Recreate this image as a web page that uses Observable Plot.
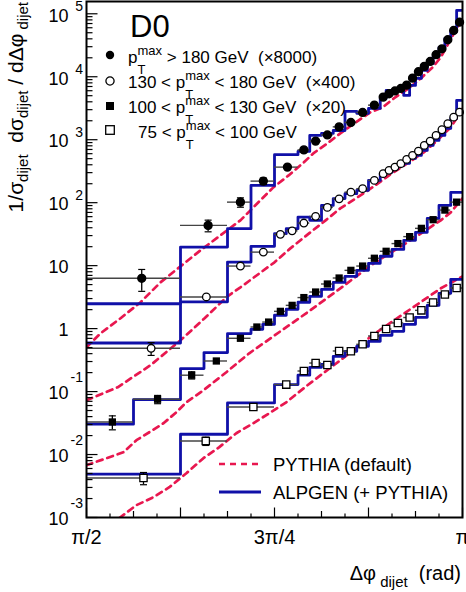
<!DOCTYPE html>
<html><head><meta charset="utf-8">
<script src="https://cdn.jsdelivr.net/npm/d3@7"></script>
<script src="https://cdn.jsdelivr.net/npm/@observablehq/plot@0.6"></script>
<style>body{margin:0;background:#fff;} svg text{white-space:pre;}</style>
</head><body><div id="chart"></div>
<script>
const PI = Math.PI;
// Δφ positions are given in units of π/128 above π/2
// Series 1: pT > 180 GeV (x8000)
const edges1 = [0,16,24,28,32,36,38,40,42,44,46,48,50,51,52,53,54,55,56,57,58,59,60,61,62,63,64];
const pos1 = [9.4,20.7,26.2,30.1,34.2,37,39,41,43,45,47,49,50.5,51.5,52.5,53.5,54.5,55.5,56.5,57.5,58.5,59.5,60.5,61.5,62.5,63.5];
const data1 = [6.3,43.6,102,220,367,689,950,1190,1600,1880,2710,3540,4750,5370,5950,6520,7360,9500,12000,14600,17500,22400,27800,38700,54300,73600];
const alpgen1 = [2.48,19.7,38.7,188,578,652,1170,1260,1400,2810,2620,3140,4520,6060,6060,6060,5050,7280,9400,12600,16300,21000,29200,40600,52400,113000];
const err1 = [0.38,0.21,0.17,0.12,0.07,0.06,0.05,0.05,0.05,0.05,0.05,0.05,0.05,0.05,0.05,0.05,0.05,0.05,0.05,0.05,0.05,0.05,0.05,0.05,0.05,0.05];
const pythiaK1 = [0,2.4,5.8,9.2,12.6,16,19.4,22.8,26.2,29.6,31.8,34.4,36.8,38.6,41,43.2,45.8,48.3,50.4,52.3,54.8,56.9,58.9,60.3,61.6,63.1,64];
const pythia1 = [0.505,0.842,1.46,2.62,5.43,9.75,17.5,30.3,52.4,109,175,271,421,606,874,1260,1880,2710,3260,4520,6520,9400,14100,20300,33800,60600,84200];
// Series 2: 130-180 GeV (x400)
const edges2 = [0,16,24,28,32,34,36,38,40,42,44,46,48,50,51,52,53,54,55,56,57,58,59,60,61,62,63,64];
const pos2 = [11.0,20.4,26.2,30.1,33,35,37,39,41,43,45,47,49,50.5,51.5,52.5,53.5,54.5,55.5,56.5,57.5,58.5,59.5,60.5,61.5,62.5,63.5];
const data2 = [0.487,3.18,9.85,16.4,31.4,35.7,47.5,60.6,84.2,115,147,167,226,289,326,367,416,487,563,659,812,950,1170,1440,1800,2280,2740];
const alpgen2 = [0.591,2.66,11.4,20.3,32.2,38.7,59.1,52.4,90.6,116,139,157,226,289,303,350,391,421,505,563,676,812,975,1170,1510,2180,4210];
const err2 = [0.23,0.09,0.06,0.05,0.04,0.04,0.04,0.04,0.04,0.04,0.04,0.04,0.04,0.04,0.04,0.04,0.04,0.04,0.04,0.04,0.04,0.04,0.04,0.04,0.04,0.04,0.04];
const pythiaK2 = [0,5.3,10.9,16,20.1,24,26.2,32,34.7,38.1,40.7,43.2,46.1,48.9,51.7,54.6,57.4,59.7,62,63.3,64];
const pythia2 = [0.0728,0.117,0.262,0.652,1.46,3.26,4.52,11.3,18.8,33.8,52.4,81.2,121,181,281,421,629,975,1570,2430,3140];
// Series 3: 100-130 GeV (x20)
const edges3 = [0,8,16,20,24,28,30,32,34,36,38,40,42,44,46,48,50,52,54,56,58,60,62,64];
const pos3 = [4.4,12.1,17.9,22.1,26.2,29,31,33,35,37,39,41,43,45,47,49,51,53,55,57,59,61,63];
const data3 = [0.0329,0.0755,0.182,0.306,0.702,1.06,1.27,1.88,2.34,3.11,3.81,5.11,6.36,8.42,9.85,13.1,16.9,22.4,28.9,39.1,53.7,76.3,102];
const alpgen3 = [0.0303,0.0746,0.232,0.416,0.833,0.975,1.17,1.63,2.03,2.62,3.26,4.21,5.43,6.76,8.42,10.9,14.1,18.1,25.2,33.8,56.3,90.6,146];
const err3 = [0.25,0.15,0.13,0.08,0.06,0.04,0.04,0.04,0.04,0.04,0.04,0.04,0.04,0.04,0.04,0.04,0.04,0.04,0.04,0.04,0.04,0.04,0.04];
const pythiaK3 = [0,3.4,6.3,8.5,10.7,13.1,15.3,17,19.9,23.8,27.7,31.8,35.2,37.6,43.2,48.9,54.6,60.3,62,64];
const pythia3 = [0.00676,0.00874,0.0109,0.0169,0.0226,0.0314,0.0469,0.0676,0.105,0.203,0.405,0.755,1.26,1.81,4.36,10.9,23.4,52.4,70.2,117];
// Series 4: 75-100 GeV
const edges4 = [0,16,24,32,36,38,40,42,44,46,48,50,52,54,56,58,60,62,64];
const pos4 = [9.7,20.3,28.4,34.0,37,39,41,43,45,47,49,51,53,55,57,59,61,63];
const data4 = [0.00425,0.0164,0.0569,0.129,0.212,0.284,0.264,0.441,0.436,0.563,0.763,0.985,1.23,1.50,1.95,2.59,3.47,4.41];
const alpgen4 = [0.00487,0.0210,0.0659,0.129,0.182,0.243,0.271,0.363,0.436,0.524,0.629,0.783,0.906,1.17,1.51,2.34,3.63,6.06];
const err4 = [0.22,0.15,0.09,0.07,0.05,0.04,0.04,0.04,0.04,0.04,0.04,0.04,0.04,0.04,0.04,0.04,0.04,0.04];
const pythiaK4 = [5.6,8.5,11.4,14.1,17,19.9,22.6,25.5,28.4,31.1,34,37.6,43.2,48.9,54.6,60.3,64];
const pythia4 = [0.00098,0.00157,0.0021,0.00303,0.00505,0.00874,0.0131,0.0218,0.0314,0.0452,0.0676,0.126,0.314,0.812,1.88,4.36,6.76];

// axis labels
const xTickVals = [PI/2, 3*PI/4, PI];
const xTickLabels = ["π/2","3π/4","π"];
const yDecades = [1e-3,1e-2,1e-1,1,10,1e2,1e3,1e4,1e5];
const yBase = ["10","10","10","1","10","10","10","10","10"];
const yExp = ["-3","-2","-1","","","2","3","4","5"];
const legendTop = [
  {pre:"", post:" > 180 GeV  (×8000)"},
  {pre:"130 < ", post:" < 180 GeV  (×400)"},
  {pre:"100 < ", post:" < 130 GeV  (×20)"},
  {pre:"75 < ", post:" < 100 GeV"}
];
const legendBottom = ["PYTHIA (default)", "ALPGEN (+ PYTHIA)"];

const RED = "#e8174f", BLUE = "#1010a8";
const toRad = k => PI/2 + k*PI/128;
function build(id, edges, pos, vals, alp, err, pk, pv){
  const pts = vals.map((v,i)=>({id, x: toRad(pos[i]), v, lo: toRad(edges[i]), hi: toRad(edges[i+1]), e: err[i]}));
  const steps = alp.flatMap((v,i)=>[{id, x: toRad(edges[i]), v},{id, x: toRad(edges[i+1]), v}]);
  const curve = pk.map((k,i)=>({id, x: toRad(k), v: pv[i]}));
  return {pts, steps, curve};
}
const S = [
  build(1, edges1, pos1, data1, alpgen1, err1, pythiaK1, pythia1),
  build(2, edges2, pos2, data2, alpgen2, err2, pythiaK2, pythia2),
  build(3, edges3, pos3, data3, alpgen3, err3, pythiaK3, pythia3),
  build(4, edges4, pos4, data4, alpgen4, err4, pythiaK4, pythia4)
];
const allPts = S.flatMap(s=>s.pts), allSteps = S.flatMap(s=>s.steps), allCurves = S.flatMap(s=>s.curve);
const caps = allPts.filter(d=>d.e>=0.1).flatMap(d=>[{x:d.x, v:d.v*(1-d.e)},{x:d.x, v:d.v*(1+d.e)}]);

const hbar = L => ({draw(ctx){ctx.moveTo(-L,0); ctx.lineTo(L,0);}});
const tickRight = L => ({draw(ctx){ctx.moveTo(0,0); ctx.lineTo(L,0);}});
const tickUp = L => ({draw(ctx){ctx.moveTo(0,0); ctx.lineTo(0,-L);}});

const yMinor = [];
for (let e=-3;e<=5;e++) for (let m=2;m<=9;m++){ const v=m*10**e; if (v<1.56e5) yMinor.push(v); }
const xT = d3.range(0,65,4);
const xBig = xT.filter(k=>k%16===0).map(toRad), xMid = xT.filter(k=>k%16!==0 && k%8===0).map(toRad), xSmall = xT.filter(k=>k%8!==0).map(toRad);

const plot = Plot.plot({
  width: 466, height: 592,
  marginLeft: 86, marginRight: 4, marginTop: 1, marginBottom: 75,
  x: {domain: [PI/2, PI], axis: null},
  y: {type: "log", domain: [1e-3, 1.567e5], axis: null},
  style: {fontFamily: "'Liberation Sans', Arial, sans-serif", background: "white", color: "black"},
  marks: [
    Plot.line(allCurves, {x:"x", y:"v", z:"id", stroke: RED, strokeWidth: 2.7, strokeDasharray: "6,5", clip: true}),
    Plot.line(allSteps, {x:"x", y:"v", z:"id", stroke: BLUE, strokeWidth: 2.8, clip: true}),
    Plot.ruleY(allPts, {y:"v", x1:"lo", x2:"hi", stroke:"#444", strokeWidth: 1.4}),
    Plot.ruleX(allPts, {x:"x", y1: d=>d.v*(1-d.e), y2: d=>d.v*(1+d.e), stroke:"black", strokeWidth: 1.3}),
    Plot.dot(caps, {x:"x", y:"v", symbol: hbar(3.5), stroke:"black", fill:"none", strokeWidth: 1.2}),
    Plot.dot(S[0].pts, {x:"x", y:"v", r:3.9, fill:"black", stroke:"black"}),
    Plot.dot(S[1].pts, {x:"x", y:"v", r:3.8, fill:"white", stroke:"black", strokeWidth:1.3}),
    Plot.dot(S[2].pts, {x:"x", y:"v", r:4.1, symbol:"square", fill:"black", stroke:"none"}),
    Plot.dot(S[3].pts, {x:"x", y:"v", r:4.1, symbol:"square", fill:"white", stroke:"black", strokeWidth:1.3}),
    Plot.frame({stroke:"black", strokeWidth: 2}),
    Plot.dot(yDecades, {y: d=>d, frameAnchor:"left", symbol: tickRight(11), stroke:"black", fill:"none", strokeWidth:1.2}),
    Plot.dot(yMinor, {y: d=>d, frameAnchor:"left", symbol: tickRight(6), stroke:"black", fill:"none", strokeWidth:1.2}),
    Plot.dot(xBig, {x: d=>d, frameAnchor:"bottom", symbol: tickUp(10), stroke:"black", fill:"none", strokeWidth:1.2}),
    Plot.dot(xMid, {x: d=>d, frameAnchor:"bottom", symbol: tickUp(6.5), stroke:"black", fill:"none", strokeWidth:1.2}),
    Plot.dot(xSmall, {x: d=>d, frameAnchor:"bottom", symbol: tickUp(4), stroke:"black", fill:"none", strokeWidth:1.2}),
    Plot.text(yDecades, {y: d=>d, text: (d,i)=>yBase[i], frameAnchor:"left", textAnchor:"end", dx:-18, dy:2, fontSize:18}),
    Plot.text(yDecades.filter((d,i)=>yExp[i].startsWith("-")), {y: d=>d, text: d=>yExp[yDecades.indexOf(d)], frameAnchor:"left", textAnchor:"end", dx:-3.5, dy:-14, fontSize:14}),
    Plot.text(yDecades.filter((d,i)=>yExp[i] && !yExp[i].startsWith("-")), {y: d=>d, text: d=>yExp[yDecades.indexOf(d)], frameAnchor:"left", textAnchor:"end", dx:-3.5, dy:-7, fontSize:14}),
    Plot.text(xTickVals, {x: d=>d, text: (d,i)=>xTickLabels[i], frameAnchor:"bottom", dy: 26, fontSize: 20})
  ]
});

const svg = d3.select(plot);
const F = "'Liberation Sans', Arial, sans-serif";
const T = (x,y,size) => svg.append("text").attr("x",x).attr("y",y).attr("font-size",size).attr("font-family",F).attr("text-anchor","start").attr("fill","black");
T(130,37,31).text("D0");

// top legend
const mk = [
  g => g.append("circle").attr("r",4.2).attr("fill","black"),
  g => g.append("circle").attr("r",4.1).attr("fill","white").attr("stroke","black").attr("stroke-width",1.3),
  g => g.append("rect").attr("x",-4).attr("y",-4).attr("width",8).attr("height",8).attr("fill","black"),
  g => g.append("rect").attr("x",-4.3).attr("y",-4.3).attr("width",8.6).attr("height",8.6).attr("fill","white").attr("stroke","black").attr("stroke-width",1.3)
];
const markerY = [55, 81, 106, 130];
const baseY = [63, 88, 113, 138];
legendTop.forEach((L,i)=>{
  const g = svg.append("g").attr("transform",`translate(110,${markerY[i]})`);
  mk[i](g);
  const t = T(i===3 ? 138 : 128, baseY[i], 17);
  t.append("tspan").text(L.pre + "p");
  t.append("tspan").attr("font-size",13).attr("dy",11).text("T");
  t.append("tspan").attr("font-size",13).attr("dx",-7.9).attr("dy",-19).text("max");
  t.append("tspan").attr("dy",8).text(L.post);
});

// bottom legend
svg.append("line").attr("x1",219).attr("x2",261).attr("y1",464).attr("y2",464).attr("stroke",RED).attr("stroke-width",2.7).attr("stroke-dasharray","6,5");
svg.append("line").attr("x1",219).attr("x2",261).attr("y1",492).attr("y2",492).attr("stroke",BLUE).attr("stroke-width",2.8);
T(273,471,18.5).text(legendBottom[0]);
T(273,499,18.5).text(legendBottom[1]);

// y title
const yt = svg.append("text").attr("transform","translate(23,2) rotate(-90)").attr("text-anchor","end").attr("font-size",21).attr("font-family",F).attr("fill","black");
yt.append("tspan").text("1/σ");
yt.append("tspan").attr("font-size",15).attr("dy",5).text("dijet");
yt.append("tspan").attr("dy",-5).text("  dσ");
yt.append("tspan").attr("font-size",15).attr("dy",5).text("dijet");
yt.append("tspan").attr("dy",-5).text(" / dΔφ");
yt.append("tspan").attr("font-size",15).attr("dy",5).text(" dijet");

// x title
const xt = svg.append("text").attr("x",461).attr("y",580).attr("text-anchor","end").attr("font-size",20).attr("font-family",F).attr("fill","black");
xt.append("tspan").text("Δφ");
xt.append("tspan").attr("font-size",15).attr("dy",7).text(" dijet");
xt.append("tspan").attr("dy",-7).text("  (rad)");

document.getElementById("chart").appendChild(plot);
</script>
</body></html>
